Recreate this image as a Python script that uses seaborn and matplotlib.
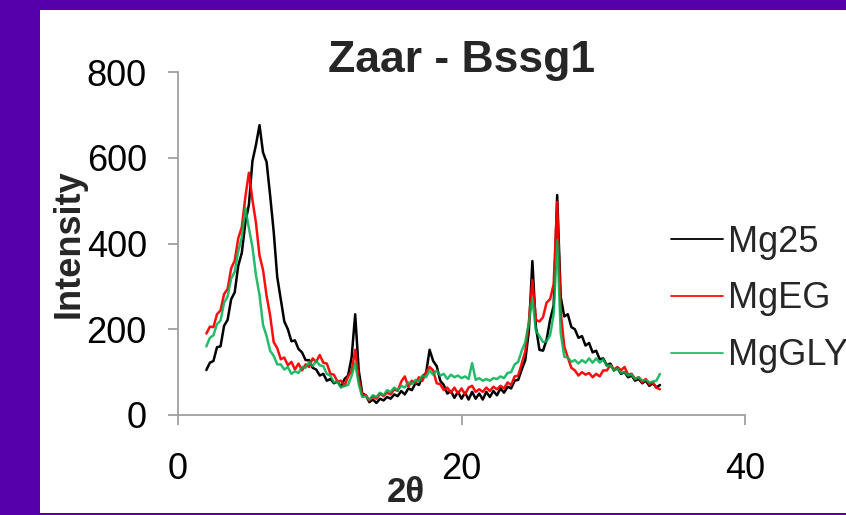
import matplotlib
matplotlib.use("Agg")
import matplotlib.pyplot as plt
from matplotlib.patches import Rectangle
import seaborn as sns
import pandas as pd

# ---------------- data ----------------
two_theta = [2.00, 2.25, 2.50, 2.75, 3.00, 3.25, 3.50, 3.75, 4.00, 4.25, 4.50, 4.75,
             5.00, 5.25, 5.50, 5.75, 6.00, 6.25, 6.50, 6.75, 7.00, 7.25, 7.50, 7.75,
             8.00, 8.25, 8.50, 8.75, 9.00, 9.25, 9.50, 9.75, 10.00, 10.25, 10.50, 10.75,
             11.00, 11.25, 11.50, 11.75, 12.00, 12.25, 12.50, 12.75, 13.00, 13.25, 13.50, 13.75,
             14.00, 14.25, 14.50, 14.75, 15.00, 15.25, 15.50, 15.75, 16.00, 16.25, 16.50, 16.75,
             17.00, 17.25, 17.50, 17.75, 18.00, 18.25, 18.50, 18.75, 19.00, 19.25, 19.50, 19.75,
             20.00, 20.25, 20.50, 20.75, 21.00, 21.25, 21.50, 21.75, 22.00, 22.25, 22.50, 22.75,
             23.00, 23.25, 23.50, 23.75, 24.00, 24.25, 24.50, 24.75, 25.00, 25.25, 25.50, 25.75,
             26.00, 26.25, 26.50, 26.75, 27.00, 27.25, 27.50, 27.75, 28.00, 28.25, 28.50, 28.75,
             29.00, 29.25, 29.50, 29.75, 30.00, 30.25, 30.50, 30.75, 31.00, 31.25, 31.50, 31.75,
             32.00, 32.25, 32.50, 32.75, 33.00, 33.25, 33.50, 33.75, 34.00]

mg25 = [105, 122, 126, 158, 160, 208, 222, 270, 286, 348, 378, 448,
        490, 592, 630, 676, 612, 590, 512, 428, 322, 270, 218, 200,
        172, 174, 154, 146, 128, 128, 110, 106, 92, 96, 80, 84,
        74, 78, 66, 84, 92, 135, 235, 104, 50, 46, 30, 36,
        28, 38, 34, 42, 38, 48, 44, 56, 48, 62, 58, 74,
        70, 90, 98, 152, 126, 114, 80, 70, 50, 56, 40, 54,
        38, 52, 36, 54, 38, 50, 36, 54, 42, 56, 46, 62,
        52, 66, 62, 80, 82, 106, 128, 195, 359, 205, 152, 150,
        175, 222, 255, 513, 275, 230, 235, 205, 200, 180, 184, 162,
        168, 146, 150, 130, 132, 116, 120, 104, 110, 96, 100, 88,
        92, 80, 84, 74, 80, 68, 74, 64, 70]

mgeg = [190, 206, 205, 235, 244, 282, 294, 342, 360, 412, 438, 508,
        565, 502, 448, 372, 338, 278, 232, 170, 156, 130, 134, 116,
        124, 106, 120, 104, 118, 112, 132, 124, 140, 122, 120, 96,
        94, 78, 80, 68, 90, 102, 152, 84, 46, 46, 34, 44,
        38, 50, 44, 52, 48, 60, 56, 78, 90, 66, 80, 74,
        88, 80, 100, 112, 104, 74, 72, 58, 64, 52, 64, 50,
        62, 48, 64, 68, 54, 60, 54, 64, 56, 66, 60, 68,
        62, 76, 70, 90, 92, 120, 148, 215, 315, 222, 218, 228,
        262, 270, 305, 497, 240, 160, 134, 110, 104, 92, 100, 94,
        98, 88, 96, 90, 104, 104, 116, 106, 112, 104, 112, 94,
        96, 84, 88, 76, 84, 72, 76, 64, 60]

mggly = [160, 180, 186, 212, 220, 262, 276, 318, 334, 382, 414, 483,
         436, 392, 326, 280, 210, 184, 150, 138, 118, 118, 106, 112,
         96, 102, 98, 112, 110, 124, 114, 126, 116, 114, 96, 92,
         76, 78, 64, 68, 70, 92, 121, 72, 42, 44, 36, 46,
         42, 52, 46, 58, 54, 64, 58, 68, 64, 76, 72, 82,
         78, 92, 88, 104, 94, 104, 92, 96, 84, 94, 88, 92,
         86, 90, 84, 121, 82, 86, 80, 84, 80, 86, 84, 90,
         86, 98, 100, 118, 124, 150, 170, 215, 273, 196, 184, 170,
         172, 186, 235, 408, 191, 136, 134, 124, 128, 120, 128, 122,
         132, 122, 132, 122, 130, 114, 116, 104, 108, 98, 100, 92,
         94, 84, 88, 80, 82, 76, 78, 80, 96]

series_names = ["Mg25", "MgEG", "MgGLY"]
series_values = [mg25, mgeg, mggly]
series_colors = ["#000000", "#FF0000", "#00B050"]
series_alpha = [1.0, 0.95, 0.85]

x_ticks = [0, 20, 40]
y_ticks = [0, 200, 400, 600, 800]

# ---------------- figure ----------------
sns.set_theme(style="white")
plt.rcParams["font.family"] = ["Liberation Sans", "DejaVu Sans"]

W, H = 846, 515
fig = plt.figure(figsize=(W / 100, H / 100), dpi=100)
fig.patch.set_facecolor("#5500AA")
fig.patches.append(Rectangle((40 / W, 2 / H), 806 / W, 503 / H,
                             transform=fig.transFigure, facecolor="white",
                             edgecolor="none", zorder=-10))

ax = fig.add_axes([178 / W, (H - 415) / H, (745 - 178) / W, (415 - 72) / H])
ax.set_facecolor("none")
ax.set_zorder(5)

for name, vals, col, a in zip(series_names, series_values, series_colors, series_alpha):
    df = pd.DataFrame({"two_theta": two_theta, "intensity": vals})
    sns.lineplot(data=df, x="two_theta", y="intensity", ax=ax, color=col,
                 alpha=a, linewidth=1.8, label=name, estimator=None, sort=False)

ax.set_xlim(0, 40)
ax.set_ylim(0, 800)
ax.set_xticks(x_ticks)
ax.set_yticks(y_ticks)

spine_col = "#A0A0A0"
for s in ["top", "right"]:
    ax.spines[s].set_visible(False)
for s in ["left", "bottom"]:
    ax.spines[s].set_color(spine_col)
    ax.spines[s].set_linewidth(1.3)

ax.tick_params(axis="both", which="major", direction="out", length=7.5,
               width=1.3, color=spine_col, labelsize=26, labelcolor="black",
               left=True, bottom=True)
ax.tick_params(axis="y", pad=15)
ax.tick_params(axis="x", pad=19)

ax.set_title("Zaar - Bssg1", fontsize=32, fontweight="bold", pad=0)

ax.set_xlabel("2θ", fontsize=25, fontweight="bold")
ax.xaxis.label.set_va("baseline")
ax.xaxis.set_label_coords((406 - 178) / 567, (415 - 502) / 343)

ax.set_ylabel("Intensity", fontsize=26, fontweight="bold")
ax.yaxis.set_label_coords((87 - 178) / 567, 0.5)

leg = ax.legend(loc="center left", bbox_to_anchor=(671 / W, (H - 299) / H),
                bbox_transform=fig.transFigure, frameon=False, fontsize=26,
                handlelength=1.45, handletextpad=0.12, labelspacing=0.6,
                borderpad=0, borderaxespad=0)
for line in leg.get_lines():
    line.set_linewidth(1.3)

fig.savefig("out.png", dpi=100, facecolor=fig.get_facecolor())
